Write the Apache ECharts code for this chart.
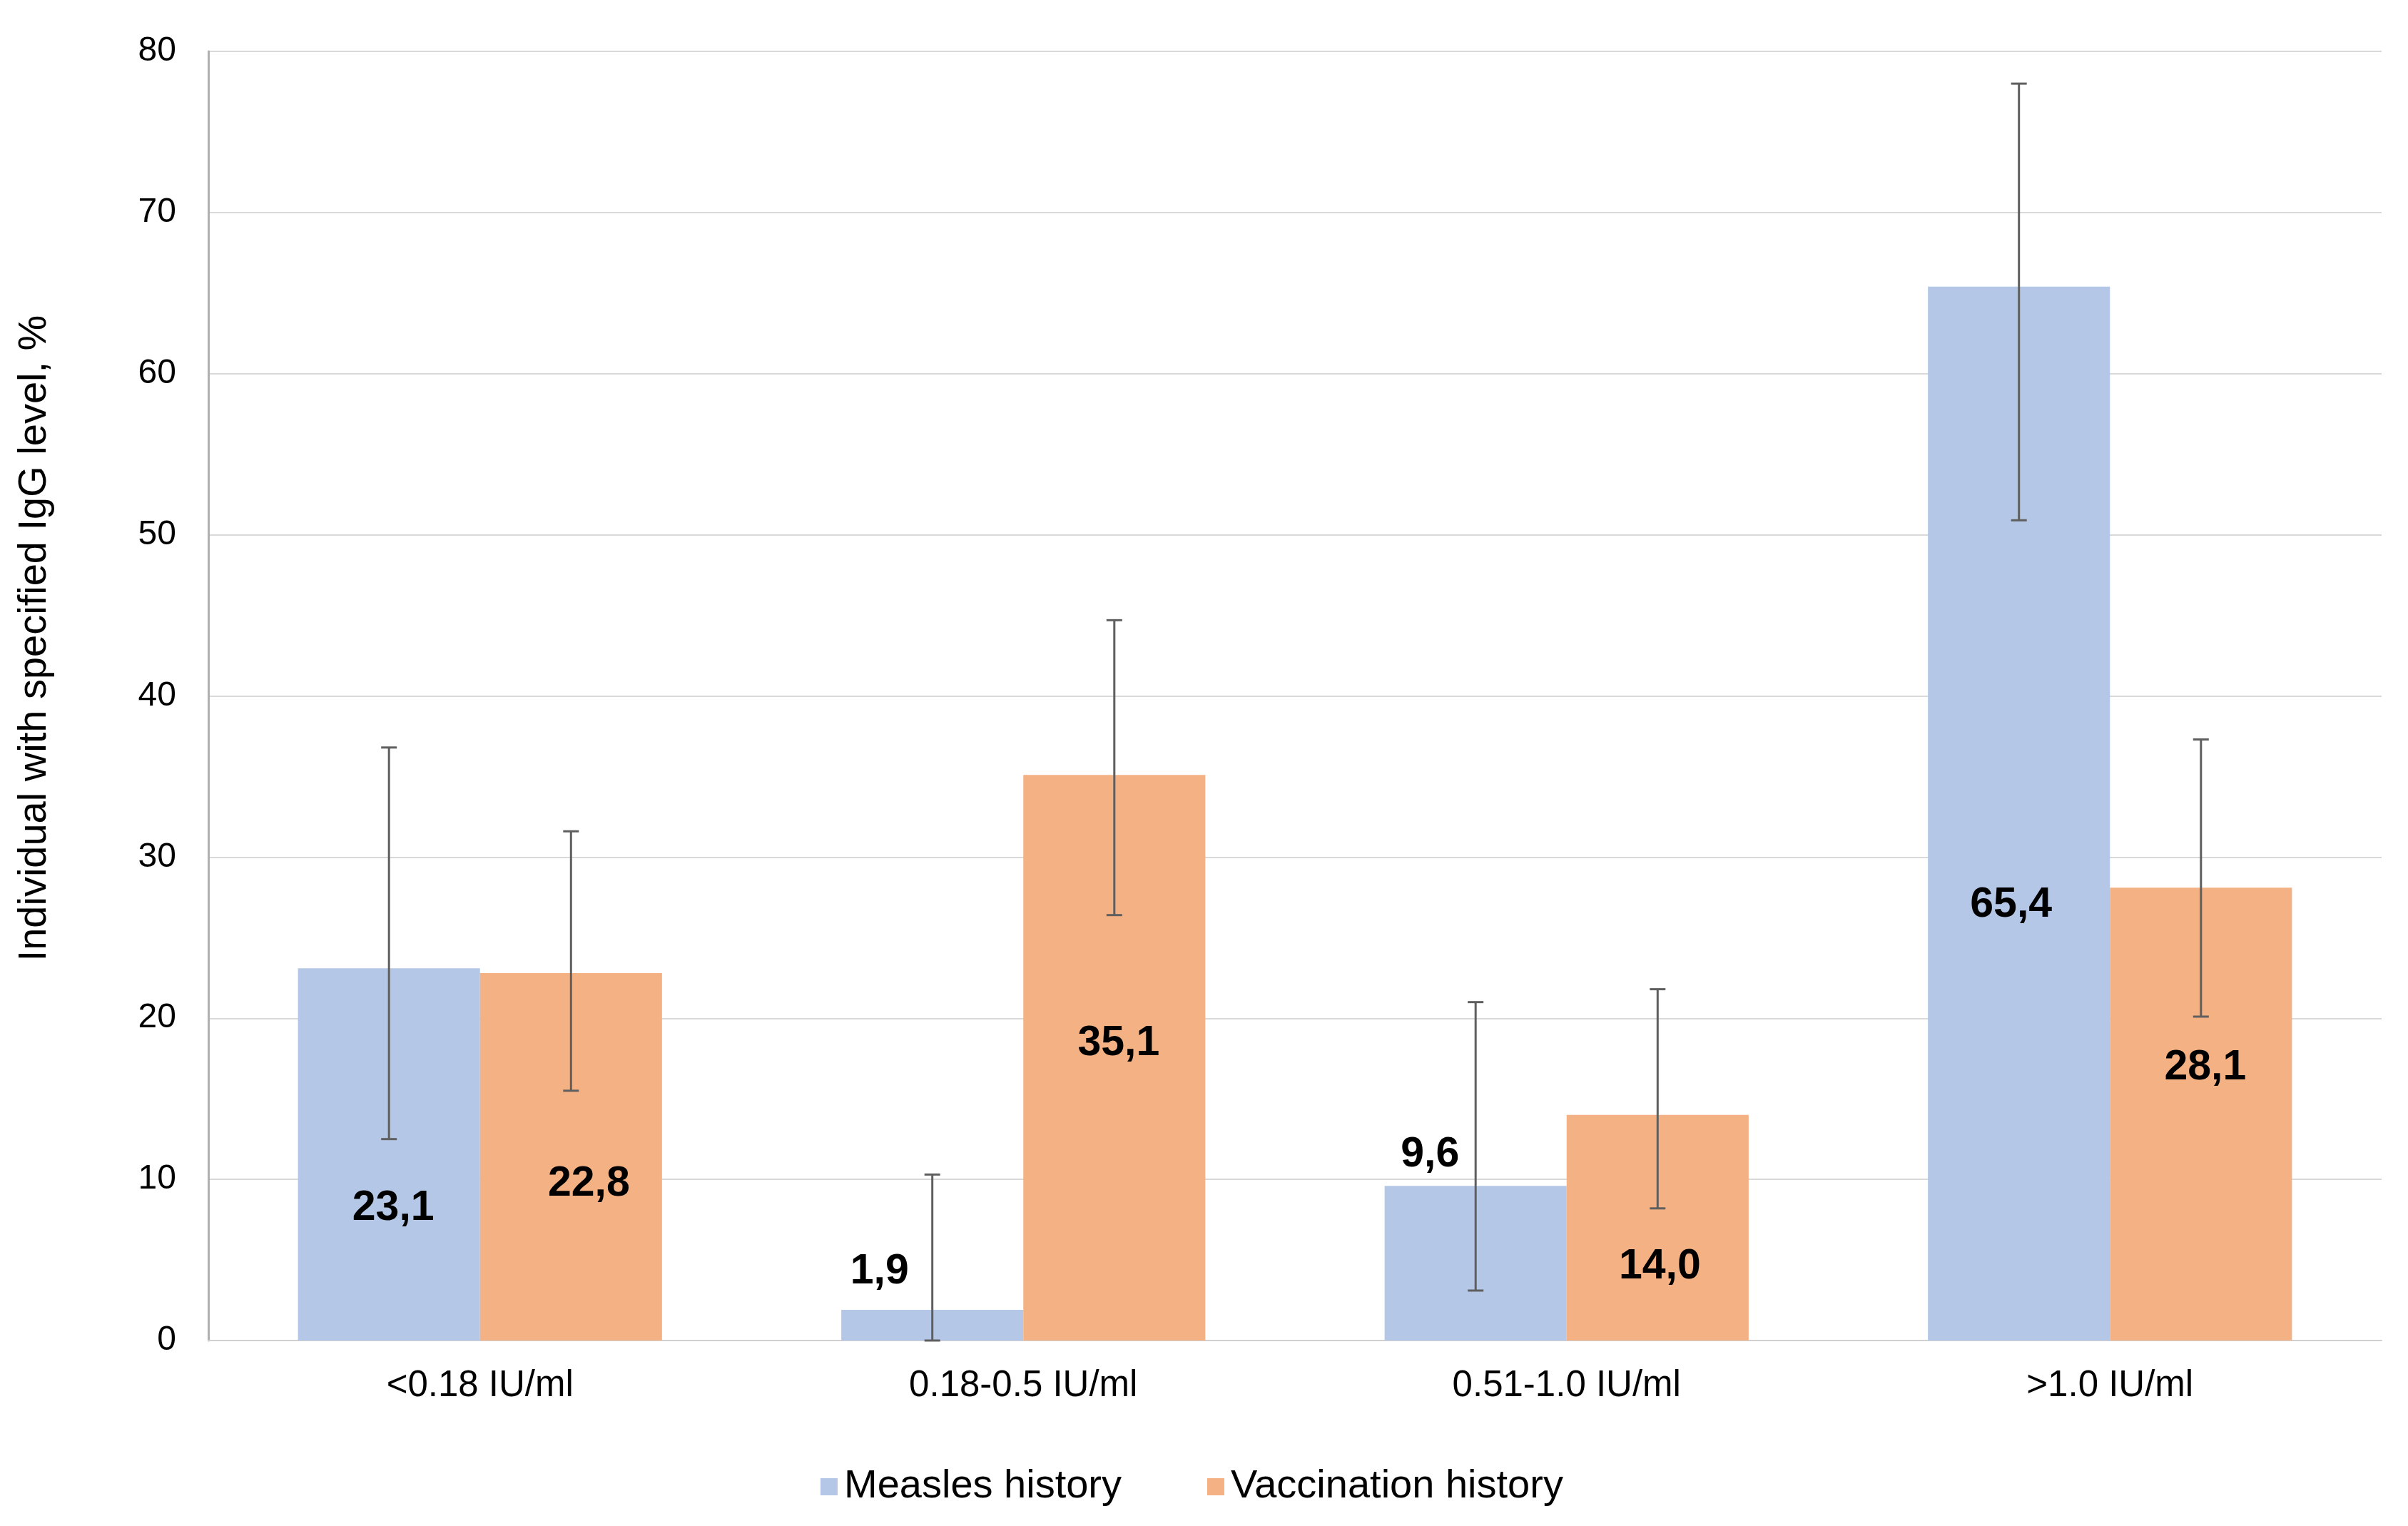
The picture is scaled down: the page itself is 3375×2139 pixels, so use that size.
<!DOCTYPE html>
<html>
<head>
<meta charset="utf-8">
<script src="https://cdn.jsdelivr.net/npm/echarts@6/dist/echarts.min.js"></script>
<style>
html,body{margin:0;padding:0;background:#fff;}
#chart{width:3375px;height:2139px;}
</style>
</head>
<body>
<div id="chart"></div>
<script>
var categories = ['<0.18 IU/ml', '0.18-0.5 IU/ml', '0.51-1.0 IU/ml', '>1.0 IU/ml'];
var seriesNames = ['Measles history', 'Vaccination history'];
var measles = [23.1, 1.9, 9.6, 65.4];
var vaccination = [22.8, 35.1, 14.0, 28.1];
var measlesLow = [12.5, 0, 3.1, 50.9];
var measlesHigh = [36.8, 10.3, 21.0, 78.0];
var vaccinationLow = [15.5, 26.4, 8.2, 20.1];
var vaccinationHigh = [31.6, 44.7, 21.8, 37.3];
var valueLabels = [['23,1', '1,9', '9,6', '65,4'], ['22,8', '35,1', '14,0', '28,1']];
var yTicks = [0, 10, 20, 30, 40, 50, 60, 70, 80];

// label placement styling (px offsets: [dx, -height above baseline])
var labelOffsets = [
  [[6, -185], [-74, -96], [-64, -260], [-11, -610]],
  [[25, -219], [6, -416], [3, -103], [6, -382]]
];

var FONT = "'Liberation Sans', Arial, sans-serif";
var colors = ['#B4C7E7', '#F4B183'];
var CAT_GAP = 0.33;

function barData(vals, s) {
  return vals.map(function (v, i) {
    return {
      value: v,
      label: {
        show: true,
        position: 'insideBottom',
        distance: 0,
        verticalAlign: 'middle',
        align: 'center',
        offset: labelOffsets[s][i],
        formatter: valueLabels[s][i],
        fontFamily: FONT,
        fontWeight: 'bold',
        fontSize: 59,
        color: '#000'
      }
    };
  });
}

function errData(lo, hi) {
  return lo.map(function (l, i) { return [i, l, hi[i]]; });
}

function errRender(side) {
  return function (params, api) {
    var cat = api.value(0);
    var lo = api.value(1), hi = api.value(2);
    var band = api.size([1, 0])[0];
    var barW = band * (1 - CAT_GAP) / 2;
    var base = api.coord([cat, 0]);
    var x = base[0] + side * barW / 2;
    var yLo = api.coord([cat, lo])[1];
    var yHi = api.coord([cat, hi])[1];
    var cap = 11;
    var st = { stroke: '#5f5f5f', lineWidth: 3 };
    return {
      type: 'group',
      children: [
        { type: 'line', shape: { x1: x, y1: yLo, x2: x, y2: yHi }, style: st },
        { type: 'line', shape: { x1: x - cap, y1: yHi, x2: x + cap, y2: yHi }, style: st },
        { type: 'line', shape: { x1: x - cap, y1: yLo, x2: x + cap, y2: yLo }, style: st }
      ]
    };
  };
}

var chart = echarts.init(document.getElementById('chart'), null, { renderer: 'canvas' });
chart.setOption({
  backgroundColor: '#ffffff',
  animation: false,
  color: colors,
  grid: { left: 292, right: 37, top: 72, bottom: 260 },
  legend: {
    data: seriesNames,
    bottom: 22,
    left: 1145,
    itemWidth: 24,
    itemHeight: 24,
    itemGap: 120,
    icon: 'rect',
    textStyle: {
      fontFamily: FONT,
      fontSize: 56,
      color: '#000',
      padding: [0, 0, 0, 4]
    }
  },
  xAxis: {
    type: 'category',
    data: categories,
    axisLine: { show: true, lineStyle: { color: '#d0d0d0', width: 2 } },
    axisTick: { show: false },
    axisLabel: { fontFamily: FONT, fontSize: 51, color: '#000', margin: 38 },
    splitLine: { show: false }
  },
  yAxis: {
    type: 'value',
    min: yTicks[0],
    max: yTicks[yTicks.length - 1],
    interval: yTicks[1] - yTicks[0],
    name: 'Individual with specified IgG level, %',
    nameLocation: 'middle',
    nameRotate: 90,
    nameGap: 215,
    nameTextStyle: { fontFamily: FONT, fontSize: 56, color: '#000', padding: [0, 0, 0, 162] },
    axisLine: { show: true, lineStyle: { color: '#b0b0b0', width: 3 } },
    axisTick: { show: false },
    axisLabel: { fontFamily: FONT, fontSize: 48, color: '#000', margin: 45 },
    splitLine: { show: true, lineStyle: { color: '#d9d9d9', width: 2 } }
  },
  series: [
    {
      name: seriesNames[0],
      type: 'bar',
      data: barData(measles, 0),
      barGap: '0%',
      barCategoryGap: (CAT_GAP * 100) + '%',
      itemStyle: { color: colors[0] },
      z: 2
    },
    {
      name: seriesNames[1],
      type: 'bar',
      data: barData(vaccination, 1),
      barGap: '0%',
      barCategoryGap: (CAT_GAP * 100) + '%',
      itemStyle: { color: colors[1] },
      z: 2
    },
    {
      name: 'err-m',
      type: 'custom',
      data: errData(measlesLow, measlesHigh),
      encode: { x: 0, y: [1, 2] },
      renderItem: errRender(-1),
      z: 5,
      silent: true
    },
    {
      name: 'err-v',
      type: 'custom',
      data: errData(vaccinationLow, vaccinationHigh),
      encode: { x: 0, y: [1, 2] },
      renderItem: errRender(1),
      z: 5,
      silent: true
    }
  ]
});
</script>
</body>
</html>
